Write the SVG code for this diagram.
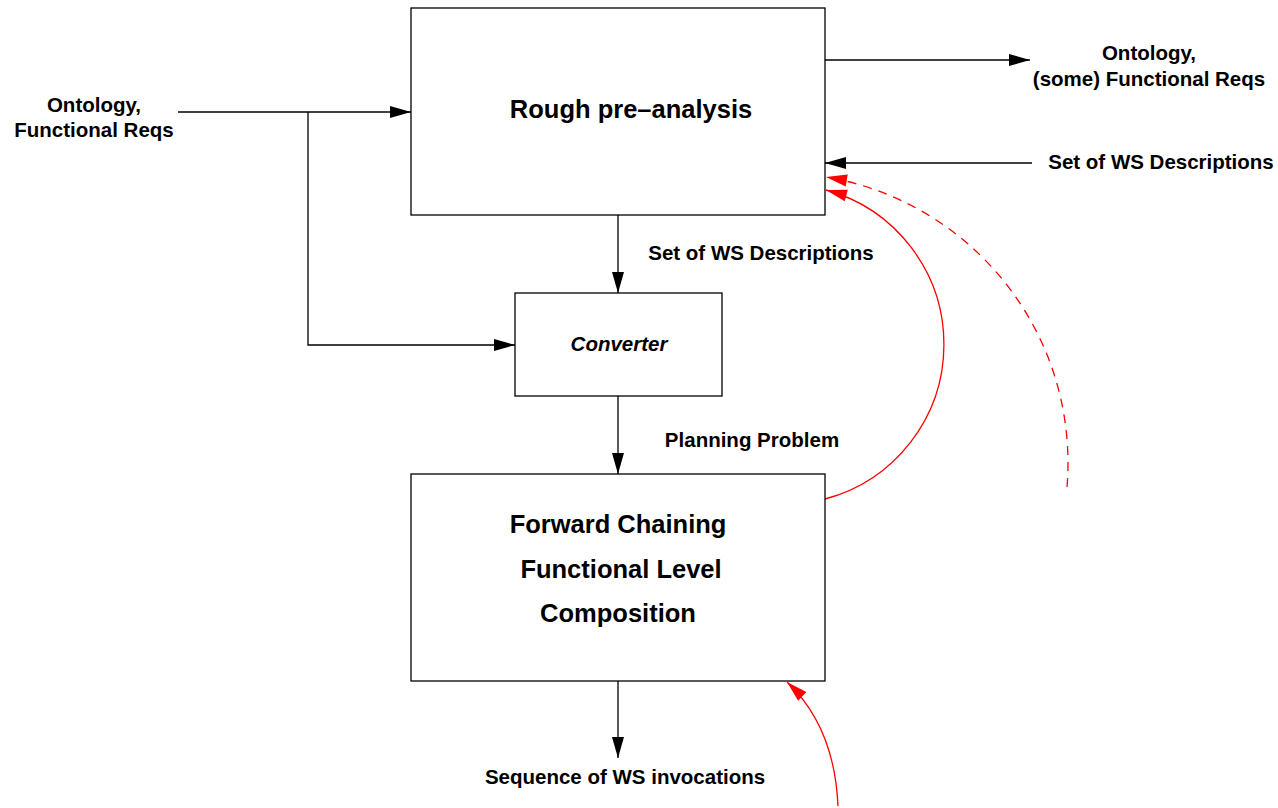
<svg xmlns="http://www.w3.org/2000/svg" width="1278" height="808" viewBox="0 0 1278 808">
<style>
.box{fill:#fff;stroke:#000;stroke-width:1.3}
.t{font-family:"Liberation Sans",Arial,sans-serif;font-weight:bold;fill:#000;text-anchor:middle}
.s{font-size:20.5px}
.b{font-size:25.5px}
.c{stroke:#000;stroke-width:1.3;fill:none}
.r{stroke:#f00;stroke-width:1.3;fill:none}
</style>
<defs>
<marker id="ah" markerUnits="userSpaceOnUse" markerWidth="24" markerHeight="14" refX="22" refY="7" orient="auto"><path d="M1,1 L22,7 L1,13 z" fill="#000"/></marker>
<marker id="rh" markerUnits="userSpaceOnUse" markerWidth="24" markerHeight="14" refX="22" refY="7" orient="auto"><path d="M1,1 L22,7 L1,13 z" fill="#f00"/></marker>
</defs>
<rect width="1278" height="808" fill="#fff"/>
<g id="connectors">
<path class="c" d="M178,112 H411" marker-end="url(#ah)"/>
<path class="c" d="M308,112 V345 H515" marker-end="url(#ah)"/>
<path class="c" d="M618,215 V293" marker-end="url(#ah)"/>
<path class="c" d="M618,396 V474" marker-end="url(#ah)"/>
<path class="c" d="M618,681 V758" marker-end="url(#ah)"/>
<path class="c" d="M825,60 H1030" marker-end="url(#ah)"/>
<path class="c" d="M1032,163 H825" marker-end="url(#ah)"/>
<path class="r" d="M825,499 A160,160 0 0 0 826,190" marker-end="url(#rh)"/>
<path class="r" d="M1067,487 A290,290 0 0 0 826,177" stroke-dasharray="9,7" marker-end="url(#rh)"/>
<path class="r" d="M838,806 C836,760 822,715 787,682" marker-end="url(#rh)"/>
</g>
<g id="rough">
<rect class="box" x="411" y="8" width="414" height="207"/>
<text class="t b" x="631" y="118">Rough pre–analysis</text>
</g>
<g id="converter">
<rect class="box" x="515" y="293" width="207" height="103"/>
<text class="t s" x="619" y="351" font-style="italic">Converter</text>
</g>
<g id="forward">
<rect class="box" x="411" y="474" width="414" height="207"/>
<text class="t b" x="618" y="533">Forward Chaining</text>
<text class="t b" x="621" y="578">Functional Level</text>
<text class="t b" x="618" y="622">Composition</text>
</g>
<g id="labels">
<text class="t s" x="94" y="112">Ontology,</text>
<text class="t s" x="94" y="137">Functional Reqs</text>
<text class="t s" x="1149" y="60">Ontology,</text>
<text class="t s" x="1149" y="86">(some) Functional Reqs</text>
<text class="t s" x="1161" y="169">Set of WS Descriptions</text>
<text class="t s" x="761" y="260">Set of WS Descriptions</text>
<text class="t s" x="752" y="447">Planning Problem</text>
<text class="t s" x="625" y="784">Sequence of WS invocations</text>
</g>
</svg>
